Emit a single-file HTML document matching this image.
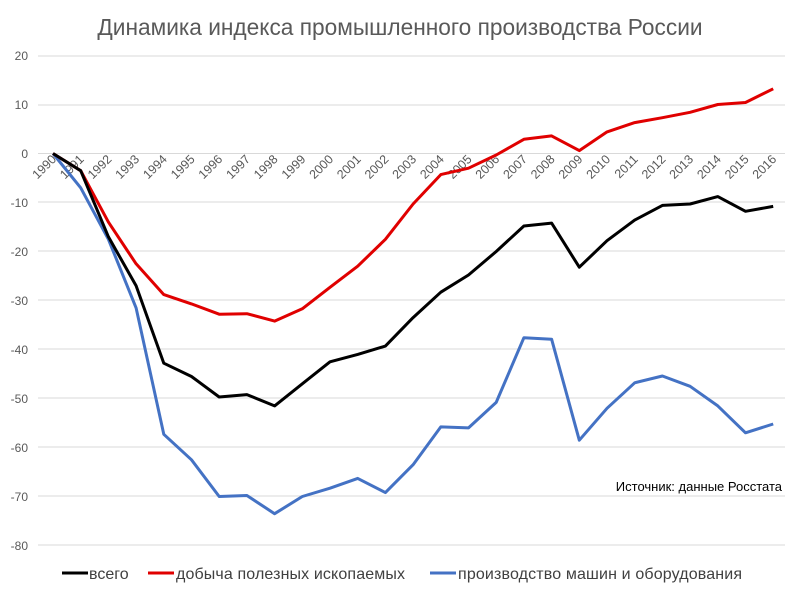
<!DOCTYPE html>
<html><head><meta charset="utf-8"><style>
body{margin:0;background:#fff}
svg{display:block;font-family:"Liberation Sans","DejaVu Sans",sans-serif}
</style></head><body>
<svg id="s" width="800" height="595" viewBox="0 0 800 595">
<text x="400" y="35" text-anchor="middle" font-size="22.7" fill="#595959">Динамика индекса промышленного производства России</text>
<g stroke="#d9d9d9" stroke-width="1">
<line x1="38" x2="785" y1="56" y2="56"/><line x1="38" x2="785" y1="105" y2="105"/>
<line x1="38" x2="785" y1="202" y2="202"/><line x1="38" x2="785" y1="251" y2="251"/>
<line x1="38" x2="785" y1="300" y2="300"/><line x1="38" x2="785" y1="349" y2="349"/>
<line x1="38" x2="785" y1="398" y2="398"/><line x1="38" x2="785" y1="447" y2="447"/>
<line x1="38" x2="785" y1="496" y2="496"/><line x1="38" x2="785" y1="545" y2="545"/>
<line x1="38" x2="785" y1="153.5" y2="153.5"/>
</g>
<g font-size="12" fill="#595959" text-anchor="end">
<text x="28" y="60">20</text><text x="28" y="109">10</text><text x="28" y="158">0</text>
<text x="28" y="207">-10</text><text x="28" y="256">-20</text><text x="28" y="305">-30</text>
<text x="28" y="354">-40</text><text x="28" y="403">-50</text><text x="28" y="452">-60</text>
<text x="28" y="501">-70</text><text x="28" y="550">-80</text>
</g>
<g font-size="12.5" fill="#595959" text-anchor="end">
<text transform="translate(57,160) rotate(-45)">1990</text>
<text transform="translate(84.7,160) rotate(-45)">1991</text>
<text transform="translate(112.4,160) rotate(-45)">1992</text>
<text transform="translate(140.1,160) rotate(-45)">1993</text>
<text transform="translate(167.8,160) rotate(-45)">1994</text>
<text transform="translate(195.5,160) rotate(-45)">1995</text>
<text transform="translate(223.2,160) rotate(-45)">1996</text>
<text transform="translate(250.9,160) rotate(-45)">1997</text>
<text transform="translate(278.6,160) rotate(-45)">1998</text>
<text transform="translate(306.3,160) rotate(-45)">1999</text>
<text transform="translate(334,160) rotate(-45)">2000</text>
<text transform="translate(361.7,160) rotate(-45)">2001</text>
<text transform="translate(389.4,160) rotate(-45)">2002</text>
<text transform="translate(417.1,160) rotate(-45)">2003</text>
<text transform="translate(444.8,160) rotate(-45)">2004</text>
<text transform="translate(472.5,160) rotate(-45)">2005</text>
<text transform="translate(500.2,160) rotate(-45)">2006</text>
<text transform="translate(527.9,160) rotate(-45)">2007</text>
<text transform="translate(555.6,160) rotate(-45)">2008</text>
<text transform="translate(583.3,160) rotate(-45)">2009</text>
<text transform="translate(611,160) rotate(-45)">2010</text>
<text transform="translate(638.7,160) rotate(-45)">2011</text>
<text transform="translate(666.4,160) rotate(-45)">2012</text>
<text transform="translate(694.1,160) rotate(-45)">2013</text>
<text transform="translate(721.8,160) rotate(-45)">2014</text>
<text transform="translate(749.5,160) rotate(-45)">2015</text>
<text transform="translate(777.2,160) rotate(-45)">2016</text>
</g>
<g id="lines" fill="none" stroke-width="3" stroke-linejoin="round"></g>
<text x="782" y="491" text-anchor="end" font-size="13" fill="#000">Источник: данные Росстата</text>
<g font-size="16" fill="#404040">
<line x1="62" x2="88" y1="573" y2="573" stroke="#000" stroke-width="3"/>
<text x="89" y="579">всего</text>
<line x1="148" x2="174" y1="573" y2="573" stroke="#e00000" stroke-width="3"/>
<text x="176" y="579" textLength="229">добыча полезных ископаемых</text>
<line x1="430" x2="456" y1="573" y2="573" stroke="#4472c4" stroke-width="3"/>
<text x="458" y="579" textLength="284">производство машин и оборудования</text>
</g>
</svg>
<script>
var d={
"#4472c4":[0,-7,-17.5,-31.5,-57.3,-62.5,-70,-69.8,-73.5,-70,-68.3,-66.3,-69.2,-63.5,-55.8,-56,-50.8,-37.6,-37.9,-58.5,-52,-46.8,-45.4,-47.5,-51.5,-57,-55.2],
"#e00000":[0,-3.5,-14,-22.5,-28.8,-30.7,-32.8,-32.7,-34.2,-31.7,-27.3,-23,-17.5,-10.3,-4.3,-3,-0.3,2.9,3.6,0.6,4.4,6.3,7.3,8.4,10,10.4,13.2],
"#000000":[0,-3.5,-17,-27,-42.8,-45.5,-49.7,-49.2,-51.5,-47,-42.5,-41,-39.3,-33.5,-28.3,-24.8,-20,-14.8,-14.2,-23.2,-17.8,-13.6,-10.6,-10.3,-8.8,-11.8,-10.8]};
var g=document.getElementById('lines'),ns="http://www.w3.org/2000/svg";
for(var c in d){var p=d[c].map(function(v,i){return (53+i*27.7).toFixed(1)+','+(153.5-v*4.9).toFixed(1)}).join(' ');
var e=document.createElementNS(ns,'polyline');e.setAttribute('points',p);e.setAttribute('stroke',c);g.appendChild(e);}
</script>
</body></html>
